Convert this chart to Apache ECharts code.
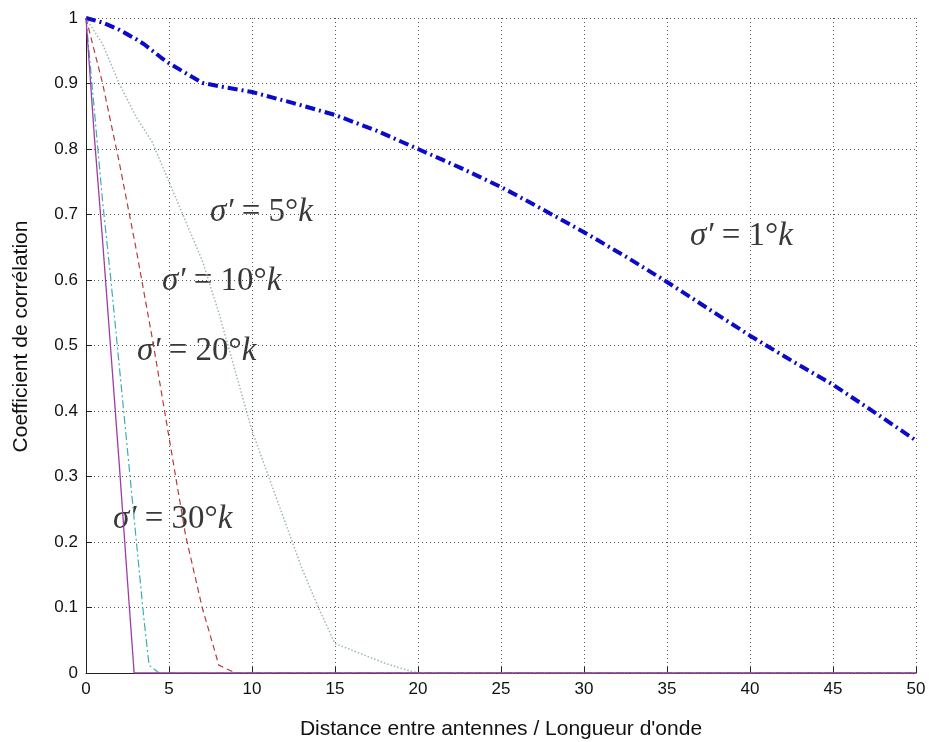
<!DOCTYPE html>
<html><head><meta charset="utf-8">
<script src="https://cdn.jsdelivr.net/npm/echarts@6/dist/echarts.min.js"></script>
<style>html,body{margin:0;padding:0;background:#fff}#c{width:930px;height:742px}</style>
</head><body><div id="c"></div>
<script>
// Data
const x1 = [0,1,2,2.5,3,3.5,4,4.5,5,6,7,8,10,12.5,15,17.5,20,22.5,25,27.5,30,32.5,35,37.5,40,42.5,45,47.5,50];
const y1 = [1,0.993,0.982,0.975,0.968,0.96,0.95,0.94,0.931,0.916,0.901,0.896,0.887,0.87,0.852,0.828,0.80,0.772,0.742,0.708,0.673,0.636,0.597,0.556,0.515,0.477,0.44,0.398,0.355];
const x5 = [0,1,2,3,4,5,6,7,8,9,10,11,12,13,14,15,16,17,18,19,20,50];
const y5 = [1,0.96,0.9,0.85,0.81,0.75,0.69,0.63,0.55,0.46,0.37,0.30,0.23,0.16,0.10,0.045,0.035,0.025,0.015,0.007,0,0];
const x10 = [0,1,2,3,4,5,6,7,8,9,50];
const y10 = [1,0.9,0.78,0.65,0.51,0.36,0.21,0.10,0.012,0,0];
const x20 = [0,0.5,1,1.5,2,2.5,3,3.5,3.8,4.4,50];
const y20 = [1,0.86,0.72,0.6,0.47,0.34,0.21,0.08,0.012,0,0];
const x30 = [0,0.5,1,1.5,2,2.5,2.9,50];
const y30 = [1,0.82,0.66,0.49,0.32,0.14,0,0];
const labels = [
  {num:'1', x:690, y:240},
  {num:'5', x:210, y:216},
  {num:'10', x:162, y:285},
  {num:'20', x:137, y:355},
  {num:'30', x:113, y:523}
];
const zip = (a,b)=>a.map((v,i)=>[v,b[i]]);

const chart = echarts.init(document.getElementById('c'));
const sansFont = '"Liberation Sans", Arial, sans-serif';
const serif = '"Liberation Serif", "Times New Roman", serif';
chart.setOption({
  animation:false,
  backgroundColor:'#fff',
  grid:{left:86,right:14,top:18,bottom:69,outerBoundsMode:'none',containLabel:false},
  xAxis:{type:'value',min:0,max:50,interval:5,
    name:"Distance entre antennes / Longueur d'onde",nameLocation:'middle',nameGap:46,
    nameTextStyle:{fontFamily:sansFont,fontSize:21,color:'#111'},
    axisLine:{lineStyle:{color:'#222',width:1}},
    axisTick:{inside:true,length:6,lineStyle:{color:'#222'}},
    axisLabel:{fontFamily:sansFont,fontSize:17,color:'#111',margin:8},
    splitLine:{show:true,lineStyle:{type:[1,3],color:'#555',width:1}}
  },
  yAxis:{type:'value',min:0,max:1,interval:0.1,
    name:'Coefficient de corrélation',nameLocation:'middle',nameGap:54,
    nameTextStyle:{fontFamily:sansFont,fontSize:21,color:'#111',padding:[0,0,0,18]},
    axisLine:{show:true,lineStyle:{color:'#222',width:1}},
    axisTick:{show:true,inside:true,length:6,lineStyle:{color:'#222'}},
    axisLabel:{fontFamily:sansFont,fontSize:17,color:'#111',margin:8,
      formatter:v=>(v===0?'0':(Math.abs(v-1)<1e-9?'1':v.toFixed(1)))},
    splitLine:{show:true,lineStyle:{type:[1,3],color:'#555',width:1}}
  },
  series:[
    {type:'line',data:zip(x5,y5),showSymbol:false,lineStyle:{color:'#9fb8b2',width:1.5,type:[1.5,2]}},
    {type:'line',data:zip(x10,y10),showSymbol:false,lineStyle:{color:'#b83c3c',width:1.2,type:[6,4]}},
    {type:'line',data:zip(x20,y20),showSymbol:false,lineStyle:{color:'#3aaeb4',width:1.2,type:[8,3,2,3]}},
    {type:'line',data:zip(x1,y1),showSymbol:false,lineStyle:{color:'#0a0ac8',width:4,type:[10,4,2,4]}},
    {type:'line',data:zip(x30,y30),showSymbol:false,lineStyle:{color:'#a03aa8',width:1.3}}
  ],
  graphic: labels.map(l=>({type:'text',left:l.x,top:l.y-20,
    style:{text:'{i|σ′}{n| = '+l.num+'°}{i|k}',
      rich:{i:{fontFamily:serif,fontStyle:'italic',fontSize:33,fill:'#383838'},
            n:{fontFamily:serif,fontSize:33,fill:'#383838'}}}}))
});
</script></body></html>
